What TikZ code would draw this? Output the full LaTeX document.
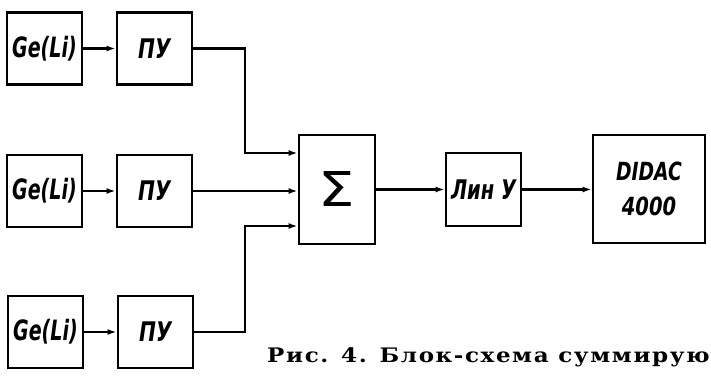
\documentclass[tikz,border=0pt]{standalone}
\usepackage{fontspec}
\usepackage{graphicx}
\usetikzlibrary{arrows.meta,calc}
\newfontfamily\hwfont{DejaVu Sans}
\newfontfamily\capfont{DejaVu Serif}[LetterSpace=7]
\newcommand{\hwtext}[3]{\scalebox{#1}[1]{\fontsize{#2}{#2}\selectfont\hwfont\bfseries\itshape #3}}
\begin{document}
\begin{tikzpicture}[x=1pt,y=-1pt,
  blk/.style={draw, line width=2.8pt, inner sep=0pt, anchor=center},
  unit/.style={blk, minimum width=75pt, minimum height=72pt},
  conn/.style={line width=2.2pt, -{Latex[length=9pt,width=6pt]}},
  wire/.style={line width=2.2pt}]
\useasboundingbox (0,0) rectangle (711,377);
% detectors
\node[unit] (g1) at (44.5,48.5) {\hwtext{0.68}{28}{Ge(Li)}};
\node[unit] (g2) at (44.5,191) {\hwtext{0.68}{28}{Ge(Li)}};
\node[unit] (g3) at (45.5,332) {\hwtext{0.68}{28}{Ge(Li)}};
% preamps
\node[unit] (p1) at (154.5,48.5) {\hwtext{0.75}{27}{ПУ}};
\node[unit] (p2) at (154.5,191) {\hwtext{0.75}{27}{ПУ}};
\node[unit] (p3) at (155.5,332) {\hwtext{0.75}{27}{ПУ}};
% summator
\node[blk, minimum width=76pt, minimum height=109pt] (s) at (337,189.5)
  {\scalebox{1.2}[1]{\fontsize{48}{48}\selectfont\hwfont Σ}};
% linear amplifier
\node[blk, minimum width=75pt, minimum height=73pt] (l) at (483.5,189.5)
  {\hwtext{0.72}{27}{Лин У}};
% analyser
\node[blk, minimum width=112pt, minimum height=108pt, align=center,
      font=\fontsize{25}{35}\selectfont] (d) at (649,189)
  {\hwtext{0.75}{25}{DIDAC}\\\hwtext{0.78}{25}{4000}};
% junction points
\coordinate (j1) at (245,153);
\coordinate (j3) at (245,226);
% connectors
\draw[conn] (g1.east) -- (p1.west);
\draw[conn] (g2.east) -- (p2.west);
\draw[conn] (g3.east) -- (p3.west);
\draw[conn] (p1.east) -| (j1) -- (s.west |- j1);
\draw[conn] (p2.east) -- (s.west |- p2.east);
\draw[conn] (p3.east) -| (j3) -- (s.west |- j3);
\draw[conn] (s.east) -- (l.west);
\draw[conn] (l.east) -- (d.west |- l.east);
% caption
\begin{scope}
\clip (0,0) rectangle (711,377);
\node[anchor=base west, inner sep=0pt] (cap) at (267,362)
  {\scalebox{1.15}[1]{\capfont\bfseries\fontsize{20}{20}\selectfont Рис. 4. Блок-схема суммирующ}};
\end{scope}
\end{tikzpicture}
\end{document}
